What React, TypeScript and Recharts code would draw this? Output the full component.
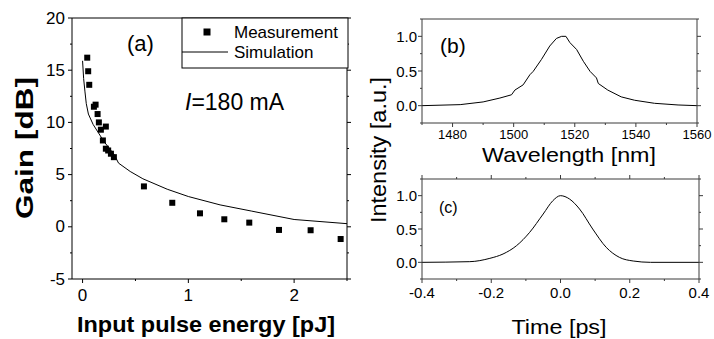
import { ComposedChart, LineChart, Line, Scatter, XAxis, YAxis, ReferenceLine } from 'recharts';

// (a) gain vs input pulse energy
const measEnergy = [0.044, 0.053, 0.063, 0.107, 0.123, 0.142, 0.154, 0.173, 0.22, 0.192, 0.22, 0.242, 0.268, 0.296, 0.58, 0.848, 1.11, 1.34, 1.576, 1.857, 2.156, 2.44];
const measGain = [16.2, 14.9, 13.6, 11.5, 11.7, 10.8, 10.0, 9.3, 9.6, 8.27, 7.48, 7.31, 7.0, 6.67, 3.87, 2.3, 1.29, 0.72, 0.4, -0.3, -0.33, -1.17];
const simEnergy = [0, 0.01, 0.022, 0.035, 0.055, 0.1, 0.2, 0.3, 0.34, 0.45, 0.57, 0.8, 1.0, 1.3, 1.6, 2.0, 2.5];
const simGain = [15.9, 14.2, 13.0, 11.8, 10.8, 9.8, 8.2, 6.9, 6.1, 5.3, 4.6, 3.6, 2.9, 2.1, 1.5, 0.7, 0.3];

// (b) spectrum
const wavelength = [1470, 1482.5, 1490, 1495.5, 1499.3, 1500.4, 1503.1, 1505.3, 1506.4, 1509.1, 1511.8, 1514, 1515.7, 1517.1, 1518.4, 1520.6, 1522.8, 1525, 1527.1, 1527.7, 1530.8, 1535.2, 1539.6, 1546.1, 1553.8, 1560];
const spectrum = [0, 0.015, 0.054, 0.11, 0.157, 0.225, 0.3, 0.446, 0.495, 0.667, 0.86, 0.97, 1.0, 1.0, 0.91, 0.81, 0.64, 0.495, 0.4, 0.32, 0.225, 0.127, 0.078, 0.034, 0.01, 0];

// (c) pulse shape
const time = [-0.4, -0.262, -0.204, -0.166, -0.127, -0.089, -0.05, -0.022, 0, 0.026, 0.055, 0.093, 0.132, 0.17, 0.21, 0.26, 0.4];
const pulse = [0, 0.01, 0.06, 0.125, 0.25, 0.45, 0.725, 0.925, 1.0, 0.95, 0.8, 0.5, 0.225, 0.075, 0.02, 0, 0];

const gainXTicks = [0, 0.5, 1, 1.5, 2, 2.5];
const gainXMajor = [0, 1, 2];
const gainYTicks = [-5, -2.5, 0, 2.5, 5, 7.5, 10, 12.5, 15, 17.5, 20];
const gainYMajor = [-5, 0, 5, 10, 15, 20];
const wlTicks = [1470, 1480, 1490, 1500, 1510, 1520, 1530, 1540, 1550, 1560];
const wlMajor = [1480, 1500, 1520, 1540, 1560];
const timeTicks = [-0.4, -0.3, -0.2, -0.1, 0, 0.1, 0.2, 0.3, 0.4];
const timeMajor = [-0.4, -0.2, 0, 0.2, 0.4];
const intTicks = [-0.25, 0, 0.25, 0.5, 0.75, 1, 1.25];
const intMajor = [0, 0.5, 1];

const measData = measEnergy.map((x, i) => ({ x, y: measGain[i] }));
const simData = simEnergy.map((x, i) => ({ x, y: simGain[i] }));
const specData = wavelength.map((x, i) => ({ x, y: spectrum[i] }));
const pulseData = time.map((x, i) => ({ x, y: pulse[i] }));

const FONT = "'Liberation Sans', Arial, sans-serif";

const isMajor = (v: number, majors: number[]) => majors.some((m) => Math.abs(m - v) < 1e-9);

// draws tick mark (outward) and, for major ticks, the label.
// mirror: distance to the opposite side of the frame, where a second tick is drawn
function makeTick(side: string, majors: number[], opts: { fmt?: (v: number) => string; size?: number; gap?: number; color?: string; mirror?: number } = {}) {
  const { fmt, size = 14, gap = 4, color = '#000', mirror } = opts;
  return (props: any) => {
    const { x, y, payload } = props;
    const v = payload.value;
    const major = isMajor(v, majors);
    const len = major ? 4 : 2;
    let line;
    let line2 = null;
    if (side === 'bottom') {
      line = <line x1={x} x2={x} y1={y} y2={y + len} stroke={color} />;
      if (mirror) line2 = <line x1={x} x2={x} y1={y - mirror} y2={y - mirror - len} stroke={color} />;
    } else if (side === 'top') line = <line x1={x} x2={x} y1={y} y2={y - len} stroke={color} />;
    else if (side === 'left') line = <line x1={x - len} x2={x} y1={y} y2={y} stroke={color} />;
    else line = <line x1={x} x2={x + len} y1={y} y2={y} stroke={color} />;
    let label = null;
    if (major && fmt) {
      if (side === 'bottom') {
        label = (
          <text x={x} y={y + gap} textAnchor="middle" dominantBaseline="central" fontSize={size} fontFamily={FONT} fill="#000">
            {fmt(v)}
          </text>
        );
      } else if (side === 'left') {
        label = (
          <text x={x - gap} y={y} textAnchor="end" dominantBaseline="central" fontSize={size} fontFamily={FONT} fill="#000">
            {fmt(v)}
          </text>
        );
      }
    }
    return (
      <g>
        {line}
        {line2}
        {label}
      </g>
    );
  };
}

const axisCommon = { tickSize: 0, tickMargin: 0, tickLine: false, interval: 0 as const, allowDataOverflow: true };

export default function App() {
  const gx = (v: number) => String(v);
  const f1 = (v: number) => v.toFixed(1);
  const axisGray = '#3a3a3a';
  return (
    <div style={{ position: 'absolute', left: 0, top: 0, width: 714, height: 339, background: '#fff', overflow: 'hidden' }}>
      {/* (a) */}
      <div style={{ position: 'absolute', left: 0, top: 0 }}>
        <ComposedChart width={360} height={339} margin={{ top: 13, right: 8, left: 0, bottom: 0 }}>
          <XAxis dataKey="x" type="number" domain={[-0.1, 2.5]} ticks={gainXTicks} height={60} axisLine={{ stroke: '#000' }} tick={makeTick('bottom', gainXMajor, { fmt: gx, size: 17, gap: 16 })} {...axisCommon} />
          <XAxis xAxisId="top" orientation="top" type="number" domain={[-0.1, 2.5]} ticks={gainXTicks} height={5} axisLine={{ stroke: '#000' }} tick={makeTick('top', gainXMajor)} {...axisCommon} />
          <YAxis dataKey="y" type="number" domain={[-5, 20]} ticks={gainYTicks} width={72} axisLine={{ stroke: '#000' }} tick={makeTick('left', gainYMajor, { fmt: gx, size: 17, gap: 7 })} {...axisCommon} />
          <YAxis yAxisId="right" orientation="right" type="number" domain={[-5, 20]} ticks={gainYTicks} width={5} axisLine={{ stroke: '#000' }} tick={makeTick('right', gainYMajor)} {...axisCommon} />
          <Line data={simData} dataKey="y" type="linear" stroke="#000" strokeWidth={1} dot={false} isAnimationActive={false} />
          <Scatter data={measData} dataKey="y" fill="#000" isAnimationActive={false} shape={(p: any) => <rect x={p.cx - 3} y={p.cy - 3} width={6} height={6} fill="#000" />} />
        </ComposedChart>
      </div>
      {/* (b) */}
      <div style={{ position: 'absolute', left: 360, top: 0 }}>
        <LineChart width={354} height={165} data={specData} margin={{ top: 14, right: 12, left: 0, bottom: 0 }}>
          <XAxis dataKey="x" type="number" domain={[1470, 1560]} ticks={wlTicks} height={42} axisLine={{ stroke: axisGray }} tick={makeTick('bottom', wlMajor, { fmt: gx, size: 13, gap: 11, color: axisGray })} {...axisCommon} />
          <XAxis xAxisId="top" orientation="top" type="number" domain={[1470, 1560]} ticks={wlTicks} height={5} axisLine={{ stroke: axisGray }} tick={makeTick('top', wlMajor, { color: axisGray })} {...axisCommon} />
          <YAxis dataKey="y" type="number" domain={[-0.25, 1.25]} ticks={intTicks} width={62} axisLine={{ stroke: axisGray }} tick={makeTick('left', intMajor, { fmt: f1, size: 15, gap: 5, color: axisGray })} {...axisCommon} />
          <YAxis yAxisId="right" orientation="right" type="number" domain={[-0.25, 1.25]} ticks={intTicks} width={5} axisLine={{ stroke: axisGray }} tick={makeTick('right', intMajor, { color: axisGray })} {...axisCommon} />
          <Line dataKey="y" type="linear" stroke="#000" strokeWidth={1} dot={false} isAnimationActive={false} />
        </LineChart>
      </div>
      {/* (c) */}
      <div style={{ position: 'absolute', left: 360, top: 170 }}>
        <LineChart width={354} height={169} data={pulseData} margin={{ top: 9, right: 10, left: 0, bottom: 0 }}>
          <XAxis dataKey="x" type="number" domain={[-0.4, 0.4]} ticks={timeTicks} height={60} axisLine={{ stroke: axisGray }} tick={makeTick('bottom', timeMajor, { fmt: f1, size: 15, gap: 13, color: axisGray, mirror: 100 })} {...axisCommon} />
          <YAxis dataKey="y" type="number" domain={[-0.25, 1.25]} ticks={intTicks} width={62} axisLine={{ stroke: axisGray }} tick={makeTick('left', intMajor, { fmt: f1, size: 15, gap: 5, color: axisGray })} {...axisCommon} />
          <YAxis yAxisId="right" orientation="right" type="number" domain={[-0.25, 1.25]} ticks={intTicks} width={5} axisLine={{ stroke: axisGray }} tick={makeTick('right', intMajor, { color: axisGray })} {...axisCommon} />
          <ReferenceLine y={1.25} stroke={axisGray} />
          <Line dataKey="y" type="monotone" stroke="#000" strokeWidth={1} dot={false} isAnimationActive={false} />
        </LineChart>
      </div>
      {/* titles, legend and annotations */}
      <svg width={714} height={339} style={{ position: 'absolute', left: 0, top: 0, pointerEvents: 'none' }} fontFamily={FONT}>
        <text x={25} y={148} transform="rotate(-90 25 148)" textAnchor="middle" dominantBaseline="central" fontSize={23} fontWeight="bold" textLength={142} lengthAdjust="spacingAndGlyphs">Gain [dB]</text>
        <text x={206} y={324} textAnchor="middle" dominantBaseline="central" fontSize={22} fontWeight="bold" textLength={258} lengthAdjust="spacingAndGlyphs">Input pulse energy [pJ]</text>
        <text x={127} y={43} dominantBaseline="central" fontSize={22}>(a)</text>
        <text x={185} y={102} dominantBaseline="central" fontSize={23}>
          <tspan fontStyle="italic">I</tspan>=180 mA
        </text>
        <rect x={182} y={18} width={166} height={50} fill="#fff" stroke="#000" strokeWidth={1} />
        <rect x={203.5} y={28.5} width={7} height={7} fill="#000" />
        <line x1={182} x2={228} y1={52} y2={52} stroke="#000" />
        <text x={234} y={32} dominantBaseline="central" fontSize={17}>Measurement</text>
        <text x={234} y={52} dominantBaseline="central" fontSize={17}>Simulation</text>

        <text x={440} y={45} dominantBaseline="central" fontSize={21}>(b)</text>
        <text x={439} y={207} dominantBaseline="central" fontSize={16}>(c)</text>
        <text x={569} y={154} textAnchor="middle" dominantBaseline="central" fontSize={21} textLength={174} lengthAdjust="spacingAndGlyphs">Wavelength [nm]</text>
        <text x={559} y={326} textAnchor="middle" dominantBaseline="central" fontSize={21} textLength={95} lengthAdjust="spacingAndGlyphs">Time [ps]</text>
        <text x={378} y={150} transform="rotate(-90 378 150)" textAnchor="middle" dominantBaseline="central" fontSize={22} textLength={146} lengthAdjust="spacingAndGlyphs">Intensity [a.u.]</text>
      </svg>
    </div>
  );
}
